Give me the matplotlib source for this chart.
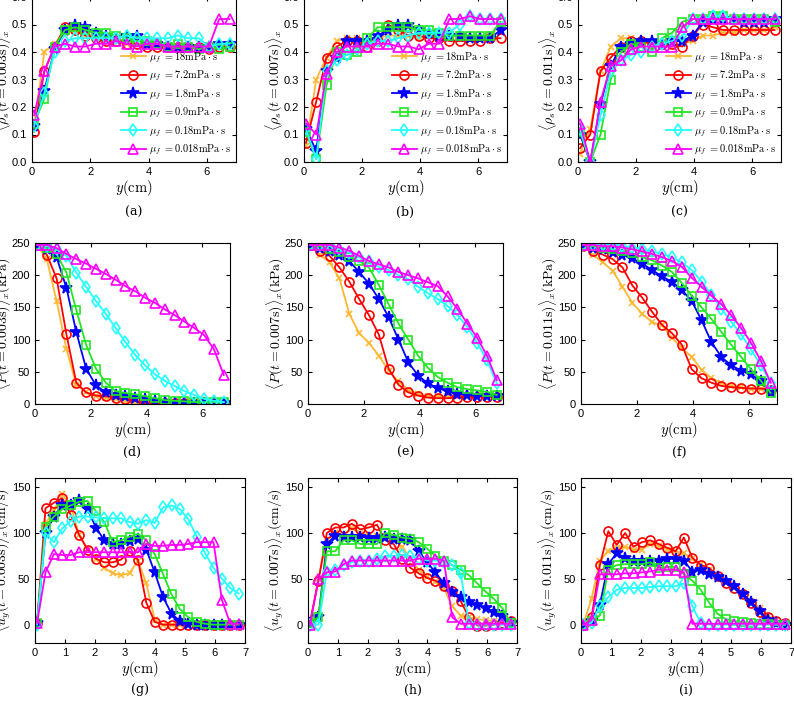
import matplotlib.pyplot as plt
import numpy as np

plt.rcParams["font.family"] = ["Liberation Sans", "DejaVu Sans"]
plt.rcParams["mathtext.fontset"] = "cm"

# sample positions (cm)
y_rho = 0.07 + 0.353 * np.arange(20)
y_u = 0.07 + 0.28 * np.arange(25)

viscosities = ["18", "7.2", "1.8", "0.9", "0.18", "0.018"]
times = ["0.003", "0.007", "0.011"]
panel_tags = ["(a)", "(b)", "(c)", "(d)", "(e)", "(f)", "(g)", "(h)", "(i)"]

# solid fraction <rho_s>_x, one list per viscosity (18, 7.2, 1.8, 0.9, 0.18, 0.018)
rho_003 = [
    [0.13, 0.40, 0.43, 0.47, 0.48, 0.46, 0.45, 0.44, 0.44, 0.43, 0.43, 0.42, 0.42, 0.42, 0.42, 0.42, 0.42, 0.42, 0.42, 0.42],
    [0.11, 0.33, 0.42, 0.49, 0.48, 0.46, 0.45, 0.44, 0.44, 0.43, 0.43, 0.42, 0.42, 0.42, 0.42, 0.42, 0.42, 0.41, 0.42, 0.42],
    [0.13, 0.26, 0.41, 0.48, 0.50, 0.49, 0.47, 0.46, 0.45, 0.46, 0.46, 0.43, 0.43, 0.42, 0.42, 0.42, 0.42, 0.42, 0.43, 0.43],
    [0.14, 0.23, 0.42, 0.48, 0.49, 0.48, 0.47, 0.47, 0.46, 0.45, 0.44, 0.44, 0.43, 0.42, 0.43, 0.42, 0.41, 0.42, 0.41, 0.42],
    [0.13, 0.25, 0.40, 0.44, 0.45, 0.45, 0.45, 0.45, 0.45, 0.46, 0.45, 0.45, 0.45, 0.45, 0.46, 0.45, 0.45, 0.42, 0.43, 0.43],
    [0.17, 0.33, 0.42, 0.43, 0.42, 0.42, 0.43, 0.43, 0.44, 0.43, 0.42, 0.43, 0.43, 0.42, 0.42, 0.42, 0.42, 0.42, 0.52, 0.52],
]
rho_007 = [
    [0.06, 0.30, 0.38, 0.44, 0.45, 0.45, 0.43, 0.45, 0.46, 0.46, 0.46, 0.45, 0.46, 0.46, 0.46, 0.46, 0.45, 0.45, 0.46, 0.50],
    [0.07, 0.22, 0.38, 0.42, 0.44, 0.44, 0.42, 0.44, 0.50, 0.48, 0.46, 0.46, 0.45, 0.45, 0.44, 0.44, 0.44, 0.44, 0.45, 0.45],
    [0.12, 0.04, 0.33, 0.38, 0.44, 0.44, 0.44, 0.46, 0.48, 0.50, 0.50, 0.48, 0.47, 0.46, 0.46, 0.46, 0.45, 0.45, 0.45, 0.48],
    [0.11, 0.01, 0.28, 0.40, 0.39, 0.40, 0.45, 0.49, 0.49, 0.49, 0.49, 0.48, 0.48, 0.47, 0.46, 0.46, 0.46, 0.46, 0.46, 0.51],
    [0.12, 0.01, 0.33, 0.37, 0.39, 0.41, 0.43, 0.44, 0.44, 0.45, 0.46, 0.47, 0.47, 0.47, 0.47, 0.50, 0.53, 0.52, 0.52, 0.52],
    [0.14, 0.10, 0.32, 0.40, 0.42, 0.42, 0.42, 0.43, 0.43, 0.42, 0.42, 0.41, 0.43, 0.43, 0.52, 0.52, 0.53, 0.52, 0.52, 0.52],
]
rho_011 = [
    [0.03, 0.12, 0.33, 0.42, 0.45, 0.45, 0.44, 0.43, 0.42, 0.42, 0.43, 0.44, 0.46, 0.46, 0.47, 0.47, 0.48, 0.48, 0.48, 0.49],
    [0.05, 0.10, 0.33, 0.38, 0.42, 0.44, 0.44, 0.43, 0.43, 0.43, 0.42, 0.46, 0.50, 0.49, 0.48, 0.48, 0.48, 0.48, 0.48, 0.48],
    [0.10, 0.00, 0.21, 0.35, 0.42, 0.43, 0.44, 0.44, 0.43, 0.44, 0.44, 0.46, 0.51, 0.52, 0.52, 0.52, 0.51, 0.51, 0.51, 0.52],
    [0.11, 0.00, 0.10, 0.30, 0.40, 0.43, 0.42, 0.40, 0.45, 0.47, 0.51, 0.52, 0.52, 0.53, 0.53, 0.52, 0.52, 0.52, 0.52, 0.51],
    [0.12, 0.00, 0.17, 0.33, 0.37, 0.39, 0.40, 0.42, 0.43, 0.44, 0.46, 0.52, 0.52, 0.53, 0.53, 0.52, 0.52, 0.52, 0.52, 0.52],
    [0.14, 0.00, 0.22, 0.35, 0.37, 0.41, 0.42, 0.42, 0.42, 0.42, 0.49, 0.52, 0.52, 0.52, 0.52, 0.52, 0.52, 0.52, 0.52, 0.52],
]

# pressure <P>_x (kPa)
p_003 = [
    [247, 225, 160, 85, 30, 18, 12, 10, 8, 5, 2, 1, 1, 1, 1, 1, 1, 1, 1, 1],
    [247, 232, 195, 108, 33, 18, 13, 12, 10, 8, 5, 1, 1, 1, 1, 1, 1, 1, 1, 1],
    [247, 240, 228, 180, 112, 55, 29, 18, 14, 12, 10, 8, 5, 3, 2, 1, 1, 1, 1, 1],
    [247, 242, 233, 204, 146, 92, 55, 33, 20, 17, 15, 12, 9, 6, 5, 4, 3, 3, 3, 3],
    [247, 245, 240, 230, 204, 182, 160, 140, 118, 96, 76, 60, 46, 36, 28, 20, 14, 8, 5, 3],
    [247, 247, 242, 233, 225, 218, 210, 202, 193, 183, 175, 165, 157, 147, 138, 128, 118, 107, 85, 45],
]
p_007 = [
    [247, 232, 220, 195, 140, 110, 95, 75, 52, 35, 22, 15, 12, 12, 12, 12, 12, 12, 12, 12],
    [247, 238, 230, 212, 190, 163, 138, 108, 55, 30, 18, 13, 10, 9, 9, 10, 11, 11, 11, 11],
    [247, 242, 238, 232, 222, 205, 187, 163, 135, 100, 65, 44, 32, 25, 20, 16, 14, 13, 12, 12],
    [247, 245, 240, 236, 228, 222, 212, 185, 155, 125, 100, 75, 56, 42, 33, 26, 23, 21, 19, 14],
    [247, 247, 245, 240, 235, 228, 222, 213, 208, 200, 194, 182, 172, 163, 152, 138, 120, 95, 68, 32],
    [247, 247, 247, 243, 238, 230, 222, 217, 212, 205, 200, 195, 189, 183, 167, 148, 125, 103, 75, 37],
]
p_011 = [
    [247, 232, 220, 207, 182, 157, 140, 127, 122, 103, 87, 73, 53, 40, 33, 28, 26, 24, 23, 22],
    [245, 238, 232, 225, 212, 184, 165, 143, 123, 110, 92, 54, 40, 33, 28, 26, 25, 24, 24, 22],
    [247, 243, 240, 236, 232, 226, 218, 208, 198, 190, 177, 160, 130, 96, 73, 60, 52, 46, 36, 18],
    [247, 245, 242, 240, 238, 234, 228, 223, 215, 205, 188, 168, 150, 132, 112, 92, 73, 54, 36, 17],
    [247, 247, 247, 247, 245, 243, 240, 237, 233, 228, 220, 208, 190, 170, 148, 128, 108, 85, 60, 33],
    [247, 247, 245, 245, 243, 240, 237, 233, 228, 222, 213, 196, 182, 168, 155, 138, 118, 95, 67, 33],
]

# velocity <u_y>_x (cm/s)
u_003 = [
    [2, 110, 125, 142, 130, 98, 82, 72, 62, 56, 54, 56, 70, 45, 5, 0, 0, 0, 0, 0, 0, 0, 0, 0, 0],
    [2, 127, 133, 138, 120, 98, 82, 72, 68, 68, 71, 80, 71, 24, 3, 0, 0, 0, 0, 0, 0, 0, 0, 0, 0],
    [2, 100, 118, 130, 130, 136, 126, 106, 92, 88, 88, 91, 93, 82, 57, 30, 12, 4, 1, 0, 0, 0, 0, 0, 0],
    [2, 107, 118, 126, 130, 134, 135, 124, 112, 90, 92, 96, 99, 92, 77, 55, 33, 17, 8, 3, 1, 0, 0, 0, 0],
    [0, 100, 90, 105, 113, 118, 118, 117, 116, 116, 116, 112, 110, 114, 111, 128, 130, 126, 115, 96, 78, 62, 50, 40, 34],
    [2, 57, 77, 76, 76, 79, 79, 79, 79, 79, 79, 79, 79, 88, 86, 86, 87, 87, 88, 90, 90, 90, 27, 1, 1],
]
u_007 = [
    [2, 50, 92, 100, 98, 105, 100, 97, 97, 95, 93, 85, 72, 60, 52, 47, 40, 20, 10, 8, 6, 5, 4, 3, 2],
    [3, 48, 100, 106, 106, 110, 104, 106, 109, 92, 88, 72, 62, 56, 51, 48, 42, 37, 26, 8, -1, -1, 0, 2, 4],
    [2, 8, 88, 97, 96, 96, 96, 95, 95, 96, 94, 94, 92, 80, 68, 57, 45, 36, 30, 25, 22, 18, 14, 10, 2],
    [2, 8, 80, 80, 92, 92, 88, 88, 88, 100, 98, 95, 94, 90, 83, 75, 70, 65, 60, 54, 45, 36, 28, 18, 2],
    [0, 0, 58, 60, 65, 68, 70, 70, 72, 75, 75, 76, 75, 72, 70, 70, 68, 65, 56, 2, 0, 0, 0, 0, 0],
    [0, 50, 57, 58, 66, 70, 70, 70, 70, 70, 70, 70, 70, 72, 72, 72, 70, 8, 1, 1, 1, 1, 1, 1, 1],
]
u_011 = [
    [0, 28, 70, 80, 84, 85, 82, 82, 88, 86, 82, 80, 78, 72, 66, 60, 52, 46, 40, 32, 25, 18, 10, 5, 2],
    [0, 8, 65, 102, 87, 100, 85, 90, 92, 88, 84, 80, 95, 73, 65, 62, 53, 45, 40, 33, 24, 14, 8, 4, 2],
    [0, 4, 22, 66, 78, 73, 70, 70, 70, 70, 72, 72, 70, 58, 60, 55, 52, 48, 42, 34, 25, 15, 5, 2, 0],
    [0, 4, 10, 60, 65, 66, 66, 66, 68, 62, 63, 63, 55, 48, 38, 24, 12, 6, 4, 3, 2, 1, 1, 0, 0],
    [0, 2, 20, 30, 38, 40, 40, 40, 41, 42, 42, 42, 45, 20, 2, 0, 0, 0, 0, 0, 0, 0, 0, 0, 0],
    [0, 5, 55, 55, 55, 56, 56, 57, 58, 60, 60, 60, 57, 1, 1, 1, 1, 1, 1, 1, 1, 1, 1, 1, 1],
]

colors = ["#FFB833", "#FF0000", "#0000FF", "#22E622", "#22FFFF", "#FF00FF"]
markers = ["x", "o", "*", "s", "d", "^"]
msizes = [4, 6.5, 8.5, 5.5, 6, 7]

W, H = 794, 701
fig = plt.figure(figsize=(W / 100, H / 100), dpi=100)


def add_axes(left, right, top, bottom):
    return fig.add_axes([left / W, 1 - bottom / H, (right - left) / W, (bottom - top) / H])


# pixel boxes (left, right, top, bottom)
boxes = [
    [(32, 236, -3, 162), (304, 507, -3, 162), (578, 781, -3, 162)],
    [(35, 230, 243, 404), (308, 503, 243, 404), (581, 777, 243, 404)],
    [(35, 245, 478, 643), (308, 517, 478, 643), (581, 791, 478, 643)],
]
tag_y = [212, 452, 690]

rows = [
    (y_rho, [rho_003, rho_007, rho_011], r"\langle\rho_s(t={t}\mathrm{{s}})\rangle_x"),
    (y_rho, [p_003, p_007, p_011], r"\langle P(t={t}\mathrm{{s}})\rangle_x(\mathrm{{kPa}})"),
    (y_u, [u_003, u_007, u_011], r"\langle u_y(t={t}\mathrm{{s}})\rangle_x(\mathrm{{cm/s}})"),
]

for r, (yy, datasets, ylab) in enumerate(rows):
    for c, series in enumerate(datasets):
        ax = add_axes(*boxes[r][c])
        for k, vals in enumerate(series):
            filled = markers[k] == "*"
            ax.plot(
                yy, vals,
                color=colors[k], marker=markers[k], ms=msizes[k], lw=1.3,
                mfc=colors[k] if filled else "none", mew=1.2,
                label=r"$\mu_f\ =" + viscosities[k] + r"\mathrm{mPa}\cdot\mathrm{s}$",
            )
        ax.set_xlim(0, 7)
        if r == 0:
            ax.set_ylim(0, 0.6)
            ax.set_xticks([0, 2, 4, 6])
            ax.set_yticks(np.arange(0, 0.61, 0.1))
            leg = ax.legend(loc="lower right", frameon=False, fontsize=7.5,
                            handlelength=2.4, labelspacing=0.4, borderaxespad=0.15,
                            handletextpad=0.3, borderpad=0.3)
            leg.set_zorder(5)
        elif r == 1:
            ax.set_ylim(0, 250)
            ax.set_xticks([0, 2, 4, 6])
            ax.set_yticks(np.arange(0, 251, 50))
        else:
            ax.set_ylim(-20, 160)
            ax.set_xticks(range(8))
            ax.set_yticks([0, 50, 100, 150])
        ax.tick_params(labelsize=8, direction="in", length=3, top=True, right=True)
        ax.set_xlabel(r"$y(\mathrm{cm})$", fontsize=10.5, labelpad=1)
        ax.set_ylabel("$" + ylab.format(t=times[c]) + "$", fontsize=10, labelpad=-1)
        left, right = boxes[r][c][0], boxes[r][c][1]
        fig.text((left + right) / 2 / W, 1 - tag_y[r] / H, panel_tags[3 * r + c],
                 ha="center", va="center", fontsize=9, family="serif",
                 math_fontfamily="cm")

fig.savefig("out.png", dpi=100)
